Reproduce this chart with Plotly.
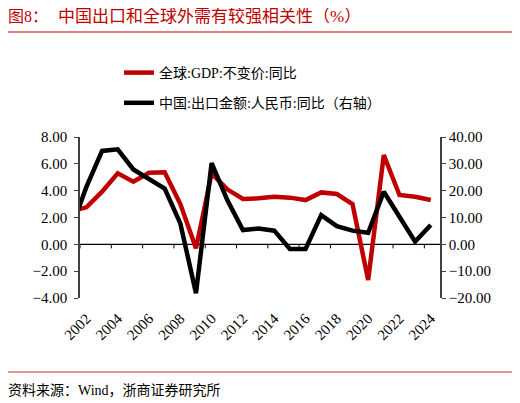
import plotly.graph_objects as go

# Annual data
years = list(range(2001, 2025))
gdp_growth = [2.45, 2.76, 3.93, 5.29, 4.67, 5.34, 5.37, 3.0, -0.3, 5.29,
              4.1, 3.38, 3.43, 3.55, 3.48, 3.3, 3.87, 3.75, 3.0, -2.66,
              6.66, 3.68, 3.55, 3.3]
export_growth = [5.5, 21.4, 34.8, 35.4, 27.9, 24.2, 20.8, 7.8, -18.2, 30.3,
                 16.5, 5.3, 5.9, 5.1, -1.7, -1.7, 10.9, 6.8, 5.1, 4.3,
                 19.6, 10.3, 1.0, 7.2]
label_years = list(range(2002, 2025, 2))

# page body has an 8px margin, so the figure is drawn 8px smaller
OFF = 8
W, H = 520 - OFF, 403 - OFF
L, R, T, B = 80 - OFF, 88 - OFF, 137 - OFF, 105
PW, PH = W - L - R, H - T - B

FONT = "Liberation Serif, Noto Sans CJK SC"
RED = "#c00000"


def px_x(sx):
    # screen x -> paper fraction
    return (sx - OFF - L) / PW


def px_y(sy):
    # screen y -> paper fraction
    return (H - B - (sy - OFF)) / PH


x0, x1 = 2001.59, 2024.59

fig = go.Figure()
fig.add_trace(go.Scatter(
    x=years, y=gdp_growth, mode="lines", name="全球:GDP:不变价:同比",
    line=dict(color=RED, width=4.5), legendgroup="a",
))
fig.add_trace(go.Scatter(
    x=years, y=export_growth, mode="lines", name="中国:出口金额:人民币:同比（右轴）",
    line=dict(color="black", width=4.5), yaxis="y2", legendgroup="b",
))

fig.update_layout(
    width=W, height=H,
    margin=dict(l=L, r=R, t=T, b=B, autoexpand=False),
    paper_bgcolor="white", plot_bgcolor="rgba(0,0,0,0)",
    font=dict(family=FONT, size=15, color="black"),
    showlegend=True,
    legend=dict(
        x=px_x(119), y=px_y(57),
        xanchor="left", yanchor="top",
        font=dict(family=FONT, size=14),
        tracegroupgap=9, bgcolor="rgba(0,0,0,0)",
    ),
    xaxis=dict(
        range=[x0, x1],
        tickvals=label_years, ticktext=[str(y) for y in label_years],
        tickangle=-45, ticks="outside", ticklen=5,
        tickcolor="rgba(0,0,0,0)",
        showline=False, showgrid=False, zeroline=False, automargin=False,
    ),
    yaxis=dict(
        range=[-4, 8], dtick=2, tickformat=".2f",
        ticks="outside", ticklen=4, tickcolor="#404040",
        ticklabelstandoff=4,
        showline=True, linecolor="#404040", linewidth=1.5,
        showgrid=False, zeroline=False, automargin=False,
    ),
    yaxis2=dict(
        range=[-20, 40], dtick=10, tickformat=".2f",
        overlaying="y", side="right", anchor="x",
        ticks="outside", ticklen=4, tickcolor="#404040",
        ticklabelstandoff=0,
        showline=True, linecolor="#404040", linewidth=1.5,
        showgrid=False, zeroline=False, automargin=False,
    ),
)

# zero line with its small tick marks (every two years)
fig.add_shape(type="line", xref="paper", yref="y", x0=0, x1=1, y0=0, y1=0,
              line=dict(color="black", width=1.2), layer="below")
for k in range(12):
    fig.add_shape(type="line", xref="x", yref="y",
                  x0=x0 + 2 * k, x1=x0 + 2 * k, y0=0, y1=-0.3,
                  line=dict(color="black", width=1), layer="below")

# title, separators and source note
fig.add_annotation(
    text="图8：", x=px_x(6), y=px_y(16), xref="paper", yref="paper",
    xanchor="left", yanchor="middle", showarrow=False,
    font=dict(family=FONT, size=16, color=RED),
)
fig.add_annotation(
    text="中国出口和全球外需有较强相关性（%）", x=px_x(56), y=px_y(16),
    xref="paper", yref="paper", xanchor="left", yanchor="middle",
    showarrow=False, font=dict(family=FONT, size=17, color=RED),
)
fig.add_annotation(
    text="资料来源：Wind，浙商证券研究所", x=px_x(6), y=px_y(390),
    xref="paper", yref="paper", xanchor="left", yanchor="middle",
    showarrow=False, font=dict(family=FONT, size=14, color="black"),
)
fig.add_shape(type="line", xref="paper", yref="paper",
              x0=px_x(5), x1=px_x(514), y0=px_y(32), y1=px_y(32),
              line=dict(color=RED, width=1.2))
fig.add_shape(type="line", xref="paper", yref="paper",
              x0=px_x(5), x1=px_x(514), y0=px_y(372), y1=px_y(372),
              line=dict(color="#e07070", width=1.5))

fig.write_html("out.html")
